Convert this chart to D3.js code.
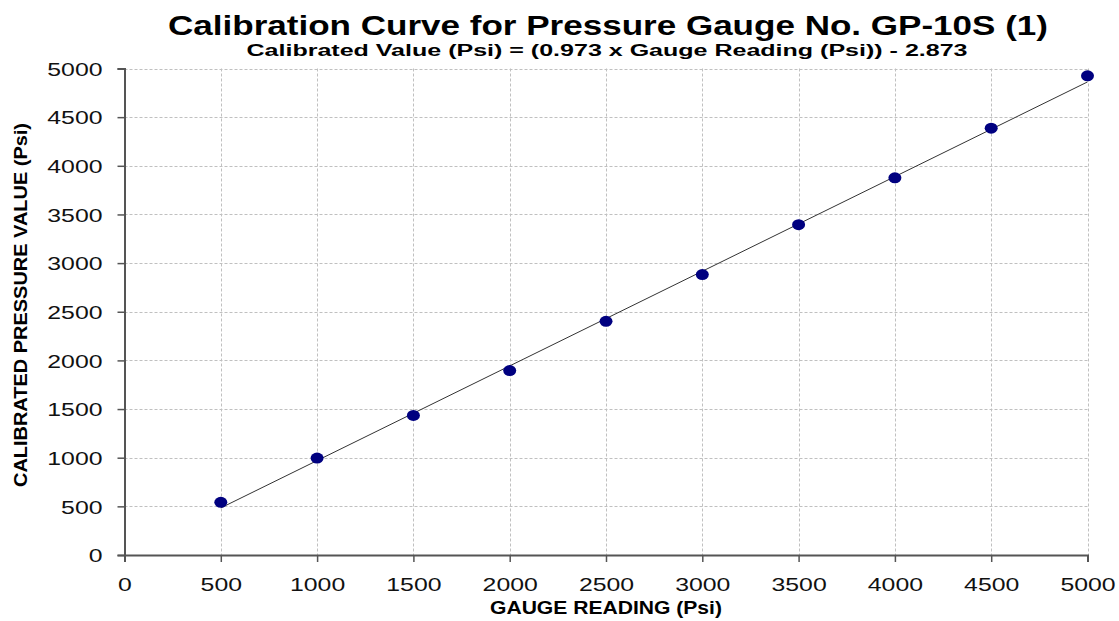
<!DOCTYPE html>
<html><head><meta charset="utf-8">
<script src="https://cdn.jsdelivr.net/npm/d3@7"></script>
<style>body{margin:0;background:#fff}svg{display:block}text{font-family:"Liberation Sans",Arial,sans-serif}</style>
</head><body><svg id="c" width="1119" height="621"></svg>
<script>
const gaugeReading = [500,1000,1500,2000,2500,3000,3500,4000,4500,5000];
const calibratedValue = [541,996,1434,1896,2402,2882,3395,3877,4387,4925];
const fitX = [500,5000];
const fitY = [484,4862];
const xTicks = [0,500,1000,1500,2000,2500,3000,3500,4000,4500,5000];
const yTicks = [0,500,1000,1500,2000,2500,3000,3500,4000,4500,5000];
const title = "Calibration Curve for Pressure Gauge No. GP-10S (1)";
const subtitle = "Calibrated Value (Psi) = (0.973 x Gauge Reading (Psi)) - 2.873";
const xLabel = "GAUGE READING (Psi)";
const yLabel = "CALIBRATED PRESSURE VALUE  (Psi)";

const svg = d3.select("#c");
const L=124.5, R=1087.5, T=68.5, B=555;
const x = d3.scaleLinear().domain([0,5000]).range([L,R]);
const y = d3.scaleLinear().domain([0,5000]).range([B,T]);

// grid
const g = svg.append("g");
g.selectAll(".gy").data(yTicks.filter(d=>d>0)).join("line")
 .attr("x1",L).attr("x2",R).attr("y1",d=>Math.round(y(d))+0.5).attr("y2",d=>Math.round(y(d))+0.5)
 .attr("stroke","#c0c0c0").attr("stroke-dasharray","3,2");
g.selectAll(".gx").data(xTicks.filter(d=>d>0)).join("line")
 .attr("y1",T).attr("y2",B).attr("x1",d=>Math.round(x(d))+0.5).attr("x2",d=>Math.round(x(d))+0.5)
 .attr("stroke","#c0c0c0").attr("stroke-dasharray","3,2");

// axes
const xa = svg.append("g").attr("transform",`translate(0,${B})`)
 .call(d3.axisBottom(x).tickValues(xTicks).tickSize(7).tickPadding(16).tickFormat(d3.format("d")));
const ya = svg.append("g").attr("transform",`translate(${L},0)`)
 .call(d3.axisLeft(y).tickValues(yTicks).tickSize(7).tickPadding(15).tickFormat(d3.format("d")));
[xa,ya].forEach(a=>{
  a.select(".domain").attr("stroke","#555").attr("stroke-width",2);
  a.selectAll(".tick line").attr("stroke","#555").attr("stroke-width",1.5);
  a.selectAll(".tick text").attr("fill","#111").style("font-size","19px")
   .style("font-family","'Liberation Sans',Arial,sans-serif")
   .attr("textLength",d=>String(d).length*13.8).attr("lengthAdjust","spacingAndGlyphs");
});
ya.selectAll(".tick text").attr("dy","0.36em");

// fit line
svg.append("line").attr("x1",x(fitX[0])).attr("y1",y(fitY[0])).attr("x2",x(fitX[1])).attr("y2",y(fitY[1]))
 .attr("stroke","#333").attr("stroke-width",1);

// points
svg.selectAll(".pt").data(gaugeReading.map((d,i)=>[d,calibratedValue[i]])).join("ellipse")
 .attr("cx",d=>x(d[0])).attr("cy",d=>y(d[1])).attr("rx",6.5).attr("ry",5.5).attr("fill","#000080");

// titles
svg.append("text").attr("x",608).attr("y",35).attr("text-anchor","middle")
 .style("font-size","27px").style("font-weight","bold").attr("textLength",880).attr("lengthAdjust","spacingAndGlyphs").text(title);
svg.append("text").attr("x",607).attr("y",56).attr("text-anchor","middle")
 .style("font-size","16px").style("font-weight","bold").attr("textLength",721).attr("lengthAdjust","spacingAndGlyphs").text(subtitle);
svg.append("text").attr("x",606).attr("y",614).attr("text-anchor","middle")
 .style("font-size","18px").style("font-weight","bold").attr("textLength",232).attr("lengthAdjust","spacingAndGlyphs").text(xLabel);
svg.append("text").attr("transform","translate(27,305) rotate(-90)").attr("text-anchor","middle")
 .style("font-size","19px").style("font-weight","bold").attr("textLength",364).attr("lengthAdjust","spacingAndGlyphs").text(yLabel);
</script></body></html>
